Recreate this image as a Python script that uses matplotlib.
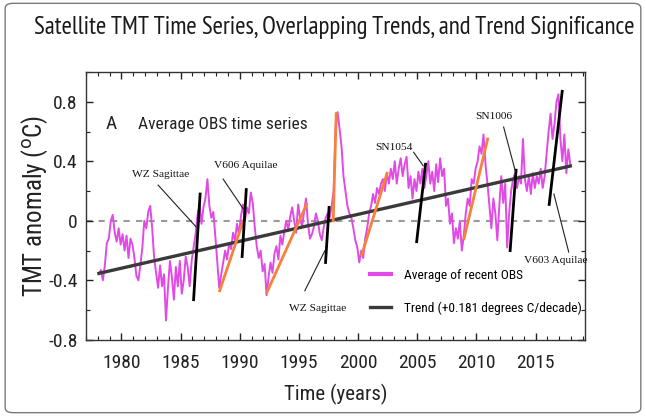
import numpy as np
import matplotlib
matplotlib.use("Agg")
import matplotlib.pyplot as plt
from matplotlib.patches import FancyBboxPatch
from matplotlib.ticker import MultipleLocator, FuncFormatter

plt.rcParams['axes.unicode_minus'] = False
SANS = ['Roboto Condensed', 'Archivo Narrow', 'DejaVu Sans']
NARROW = ['PT Sans Narrow', 'Roboto Condensed', 'DejaVu Sans']
SERIF = ['Liberation Serif', 'DejaVu Serif']
plt.rcParams['font.family'] = SANS

# average of recent OBS, one value every two months starting 1978.1
obs_start = 1978.1
obs_vals = [
    -0.36, -0.33, -0.40, -0.30, -0.15, -0.12,   # 1978
    0.00, 0.04, -0.08, -0.14, -0.05, -0.16,     # 1979
    -0.09, -0.20, -0.10, -0.25, -0.12, -0.16,   # 1980
    -0.25, -0.37, -0.40, -0.30, -0.18, 0.00,    # 1981
    -0.05, 0.06, 0.10, -0.05, -0.25, -0.35,     # 1982
    -0.45, -0.30, -0.44, -0.36, -0.67, -0.45,   # 1983
    -0.27, -0.38, -0.53, -0.31, -0.44, -0.27,   # 1984
    -0.49, -0.40, -0.24, -0.31, -0.44, -0.27,   # 1985
    -0.18, -0.09, 0.04, 0.11, -0.02, 0.09,      # 1986
    0.15, 0.28, 0.10, 0.02, 0.06, -0.10,        # 1987
    -0.28, -0.45, -0.36, -0.28, -0.20, -0.26,   # 1988
    -0.15, -0.19, -0.08, -0.13, -0.02, -0.09,   # 1989
    0.03, 0.11, 0.00, 0.09, 0.05, 0.19,         # 1990
    0.12, -0.04, -0.17, -0.25, -0.20, -0.34,    # 1991
    -0.29, -0.50, -0.38, -0.28, -0.35, -0.22,   # 1992
    -0.17, -0.26, -0.10, -0.16, -0.07, 0.00,    # 1993
    -0.06, 0.03, 0.09, 0.00, -0.08, 0.11,       # 1994
    0.02, -0.04, 0.06, 0.15, -0.02, -0.12,      # 1995
    -0.09, -0.04, 0.05, 0.00, -0.09, -0.13,     # 1996
    -0.04, 0.02, 0.05, 0.02, 0.10, 0.20,        # 1997
    0.62, 0.73, 0.62, 0.50, 0.30, 0.20,         # 1998
    0.10, 0.05, 0.02, -0.05, -0.13, -0.18,      # 1999
    -0.28, -0.20, -0.25, -0.12, -0.05, 0.05,    # 2000
    0.10, 0.18, 0.12, 0.22, 0.18, 0.25,         # 2001
    0.28, 0.20, 0.32, 0.25, 0.35, 0.28,         # 2002
    0.40, 0.25, 0.35, 0.42, 0.30, 0.38,         # 2003
    0.43, 0.22, 0.30, 0.15, 0.28, 0.20,         # 2004
    0.33, 0.25, 0.35, 0.22, 0.30, 0.40,         # 2005
    0.25, 0.33, 0.20, 0.38, 0.26, 0.42,         # 2006
    0.30, 0.35, 0.10, 0.15, -0.02, 0.05,        # 2007
    -0.15, -0.05, -0.12, 0.00, -0.20, -0.10,    # 2008
    0.05, 0.15, 0.10, 0.28, 0.25, 0.35,         # 2009
    0.40, 0.50, 0.45, 0.58, 0.38, 0.25,         # 2010
    0.10, -0.05, 0.15, 0.05, -0.13, 0.10,       # 2011
    0.30, 0.12, 0.25, -0.18, 0.05, 0.20,        # 2012
    0.28, 0.32, 0.22, 0.30, 0.25, 0.55,         # 2013
    0.28, 0.20, 0.30, 0.18, 0.32, 0.22,         # 2014
    0.30, 0.25, 0.35, 0.22, 0.30, 0.45,         # 2015
    0.60, 0.72, 0.55, 0.65, 0.80, 0.85,         # 2016
    0.55, 0.40, 0.58, 0.32, 0.48, 0.38,         # 2017
]
obs_t = obs_start + np.arange(len(obs_vals)) / 6.0

# overall trend (deg C per year) and the year it crosses zero
trend_slope = 0.0181
trend_zero = 1997.6

# short orange trends: (t0, v0, t1, v1)
orange_segs = [
    (1988.3, -0.47, 1990.3, 0.00),
    (1992.3, -0.48, 1995.65, 0.11),
    (1997.9, 0.00, 1998.15, 0.72),
    (2000.3, -0.23, 2002.45, 0.32),
    (2008.95, -0.12, 2010.95, 0.55),
]

# black nova / supernova trend bars: (t0, v0, t1, v1)
event_segs = [
    (1986.1, -0.53, 1986.65, 0.18),
    (1990.2, -0.24, 1990.55, 0.21),
    (1997.25, -0.28, 1997.55, 0.09),
    (2004.95, -0.14, 2005.7, 0.38),
    (2012.85, -0.20, 2013.35, 0.34),
    (2016.15, 0.11, 2017.25, 0.87),
]
event_names = ['WZ Sagittae', 'V606 Aquilae', 'WZ Sagittae',
               'SN1054', 'SN1006', 'V603 Aquilae']

fig = plt.figure(figsize=(6.46, 4.16), dpi=100)
fig.patches.append(FancyBboxPatch((0.008, 0.008), 0.984, 0.984,
                                  boxstyle='round,pad=0,rounding_size=0.012',
                                  transform=fig.transFigure, fill=False,
                                  edgecolor='#7a7a7a', lw=1.0))
title = fig.text(0.517, 0.935, 'Satellite TMT Time Series, Overlapping Trends, and Trend Significance',
                 ha='center', va='center', fontsize=20, color='#1a1a1a', family=NARROW)

ax = fig.add_axes([0.133, 0.183, 0.773, 0.644])

ax.axhline(0, color='#9a9a9a', lw=1.5, ls=(0, (3, 3)), zorder=1)
ax.plot(obs_t, obs_vals, color='#e14ae6', lw=1.4, zorder=2,
        label='Average of recent OBS')
tt = np.array([obs_t[0], obs_t[-1]])
ax.plot(tt, trend_slope * (tt - trend_zero), color='#3a3a3a', lw=2.4, zorder=3,
        label='Trend (+0.181 degrees C/decade)')
for t0, v0, t1, v1 in orange_segs:
    ax.plot([t0, t1], [v0, v1], color='#f5813a', lw=2.0, zorder=4)
for t0, v0, t1, v1 in event_segs:
    ax.plot([t0, t1], [v0, v1], color='black', lw=2.0, zorder=5)

# event labels with leader lines
ann = [
    ((1983.3, 0.31), (1983.1, 0.24), (1986.3, -0.04)),
    ((1990.5, 0.37), (1988.6, 0.28), (1990.3, 0.08)),
    ((1996.6, -0.59), (1995.5, -0.47), (1997.2, -0.20)),
    ((2003.0, 0.49), (2004.7, 0.46), (2005.5, 0.37)),
    ((2011.5, 0.70), (2012.3, 0.63), (2013.3, 0.33)),
    ((2016.7, -0.27), (2016.55, 0.18), (2017.8, -0.21)),
]
for name, (tp, a, b) in zip(event_names, ann):
    ax.text(tp[0], tp[1], name, family=SERIF, fontsize=8.2, ha='center',
            va='center', color='#111111', zorder=6, clip_on=False)
    ax.plot([a[0], b[0]], [a[1], b[1]], color='#222222', lw=0.8, zorder=5)

ax.text(1979.15, 0.65, 'A', fontsize=14, ha='center', va='center', color='#222222')
panel = ax.text(1981.36, 0.65, 'Average OBS time series', fontsize=14, ha='left',
                va='center', color='#222222')

ax.set_xlim(1977.0, 2019.2)
ax.set_ylim(-0.8, 1.0)
ax.xaxis.set_major_locator(MultipleLocator(5))
ax.xaxis.set_minor_locator(MultipleLocator(1))
ax.set_yticks([-0.8, -0.4, 0, 0.4, 0.8])
ax.yaxis.set_minor_locator(MultipleLocator(0.2))
ax.yaxis.set_major_formatter(FuncFormatter(lambda v, p: '%g' % (round(v, 1) + 0.0)))
ax.tick_params(which='both', direction='in', top=True, right=True,
               labelsize=14, colors='#222222', pad=6)
ax.tick_params(axis='x', pad=10)
ax.tick_params(which='major', length=5, width=1)
ax.tick_params(which='minor', length=3, width=0.8)
for s in ax.spines.values():
    s.set_color('#333333')
    s.set_linewidth(1.0)

xl = ax.set_xlabel('Time (years)', fontsize=15, color='#222222', labelpad=9)
yl = ax.set_ylabel('TMT anomaly ($^{\\rm o}$C)', fontsize=18, color='#222222', labelpad=-1)

leg = ax.legend(loc='lower right', bbox_to_anchor=(1.02, 0.04), frameon=False,
                fontsize=11, labelspacing=1.3, handlelength=1.4, handletextpad=0.8)
leg.get_lines()[0].set_linewidth(3)

# match a few text widths to the reference (pixels)
r = fig.canvas.get_renderer()
for t, w in [(title, 597), (panel, 170), (leg.get_texts()[1], 178)]:
    t.set_fontsize(t.get_fontsize() * w / t.get_window_extent(renderer=r).width)
leg.get_texts()[0].set_fontsize(leg.get_texts()[1].get_fontsize())

fig.savefig('out.png', dpi=100)
